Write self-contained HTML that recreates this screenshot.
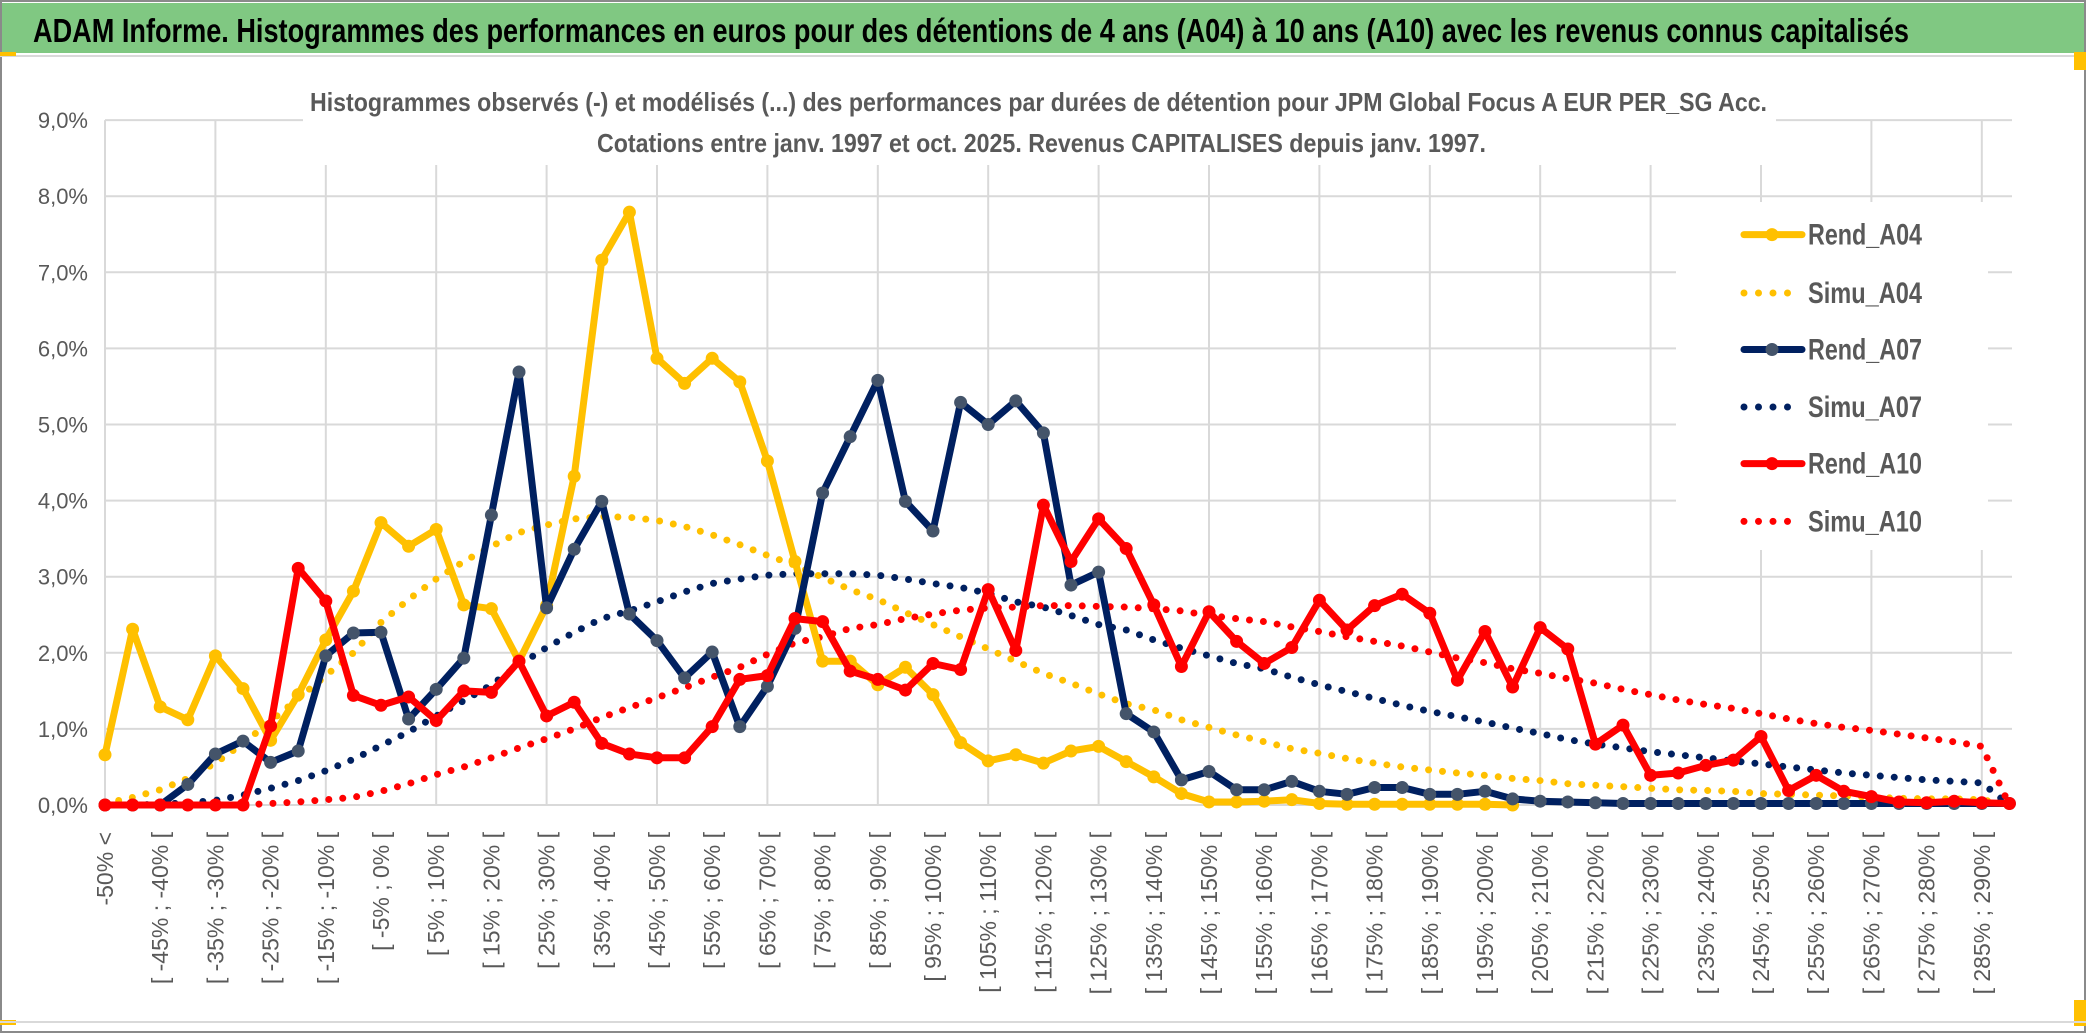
<!DOCTYPE html>
<html><head><meta charset="utf-8"><style>
body{margin:0;background:#fff}
svg{display:block}
text{font-family:"Liberation Sans Narrow","Liberation Sans",sans-serif}
</style></head><body>
<svg id="chart" width="2086" height="1033" viewBox="0 0 2086 1033" xmlns="http://www.w3.org/2000/svg">
<rect x="0" y="0" width="2086" height="1033" fill="#fff"/>
<rect x="1" y="1" width="2084" height="1031" fill="none" stroke="#8a8a8a" stroke-width="2"/>
<rect x="2" y="3" width="2082" height="50" fill="#80c882"/>
<line x1="0" y1="56" x2="2086" y2="56" stroke="#d9d9d9" stroke-width="2"/>
<rect x="0" y="52" width="16" height="4" fill="#ffc000"/>
<rect x="2074" y="52" width="12" height="18" fill="#ffc000"/>
<rect x="0" y="1020" width="16" height="5" fill="#ffc000"/>
<rect x="2074" y="1000" width="12" height="26" fill="#ffc000"/>
<line x1="0" y1="1022" x2="2086" y2="1022" stroke="#d9d9d9" stroke-width="2"/>
<text x="33" y="42" font-size="33" font-weight="bold" fill="#000" textLength="1876" lengthAdjust="spacingAndGlyphs">ADAM Informe. Histogrammes des performances en euros pour des détentions de 4 ans (A04) à 10 ans (A10) avec les revenus connus capitalisés</text>
<g id="grid"></g>
<rect x="303" y="70" width="1473" height="95" fill="#fff"/>
<text x="310" y="111" font-size="26" font-weight="bold" fill="#595959" textLength="1457" lengthAdjust="spacingAndGlyphs">Histogrammes observés (-) et modélisés (...) des performances par durées de détention pour JPM Global Focus A EUR PER_SG Acc.</text>
<text x="597" y="152" font-size="26" font-weight="bold" fill="#595959" textLength="889" lengthAdjust="spacingAndGlyphs">Cotations entre janv. 1997 et oct. 2025. Revenus CAPITALISES depuis janv. 1997.</text>
<g id="yaxis"></g>
<g id="xaxis"></g>
<g id="series"></g>
<g id="legend"></g>
</svg>
<script>
const categories = ["-50% <"];
for (let k = 1; k < 70; k++) { categories.push("[ " + (-55 + 5 * k) + "% ; " + (-50 + 5 * k) + "% ["); }
const yTicks = [0,1,2,3,4,5,6,7,8,9];
const yTickLabels = ["0,0%","1,0%","2,0%","3,0%","4,0%","5,0%","6,0%","7,0%","8,0%","9,0%"];
const rendA04 = [0.66,2.31,1.29,1.12,1.96,1.53,0.85,1.45,2.17,2.81, 3.71,3.40,3.62,2.63,2.58,1.89,2.62,4.32,7.16,7.79, 5.87,5.54,5.87,5.56,4.52,3.2,1.89,1.89,1.58,1.81, 1.45,0.82,0.58,0.66,0.55,0.71,0.77,0.57,0.37,0.15, 0.04,0.04,0.05,0.07,0.02,0.01,0.01,0.01,0.01,0.01, 0.01,0.0,null,null,null,null,null,null,null,null, null,null,null,null,null,null,null,null,null,null];
const simuA04 = [0.02,0.1,0.2,0.35,0.55,0.81,1.1,1.4,1.7,2.0, 2.4,2.7,2.97,3.2,3.4,3.58,3.68,3.76,3.79,3.78, 3.74,3.66,3.55,3.42,3.28,3.15,2.99,2.83,2.70,2.53, 2.37,2.21,2.05,1.89,1.73,1.60,1.46,1.33,1.25,1.12, 1.02,0.92,0.83,0.74,0.68,0.61,0.55,0.50,0.46,0.42, 0.39,0.35,0.32,0.28,0.26,0.24,0.22,0.20,0.19,0.18, 0.15,0.14,0.13,0.12,0.10,0.09,0.08,0.08,0.07,0.0];
const rendA07 = [0,0,0,0.27,0.67,0.84,0.56,0.71,1.96,2.26, 2.27,1.13,1.52,1.93,3.81,5.69,2.59,3.36,3.99,2.51, 2.16,1.67,2.01,1.03,1.56,2.32,4.10,4.84,5.58,3.99, 3.60,5.29,5.00,5.31,4.89,2.89,3.06,1.20,0.96,0.33, 0.44,0.20,0.20,0.31,0.18,0.14,0.23,0.23,0.14,0.14, 0.18,0.08,0.05,0.04,0.03,0.02,0.02,0.02,0.02,0.02, 0.02,0.02,0.02,0.02,0.02,0.02,0.02,0.02,0.02,0.02];
const simuA07 = [0,0,0.01,0.03,0.06,0.13,0.22,0.32,0.45,0.6, 0.78,0.96,1.17,1.37,1.58,1.84,2.07,2.27,2.45,2.55, 2.67,2.80,2.91,2.97,3.02,3.04,3.04,3.04,3.02,2.97, 2.91,2.86,2.78,2.67,2.60,2.49,2.37,2.30,2.17,2.06, 1.96,1.86,1.79,1.68,1.58,1.49,1.40,1.31,1.23,1.16, 1.09,1.01,0.94,0.86,0.80,0.75,0.70,0.66,0.62,0.58, 0.54,0.50,0.46,0.42,0.39,0.36,0.33,0.31,0.29,0.0];
const rendA10 = [0,0,0,0,0,0,1.04,3.11,2.68,1.44, 1.31,1.42,1.11,1.50,1.48,1.89,1.17,1.35,0.81,0.67, 0.62,0.62,1.03,1.65,1.70,2.45,2.41,1.76,1.65,1.51, 1.86,1.78,2.83,2.03,3.94,3.20,3.76,3.37,2.63,1.82, 2.54,2.15,1.86,2.07,2.69,2.30,2.62,2.77,2.52,1.64, 2.28,1.55,2.33,2.05,0.80,1.05,0.39,0.42,0.52,0.59, 0.90,0.19,0.39,0.18,0.11,0.04,0.03,0.05,0.03,0.02];
const simuA10 = [0,0,0,0,0,0,0.02,0.04,0.07,0.1, 0.18,0.28,0.4,0.5,0.62,0.75,0.87,1.0,1.15,1.28, 1.41,1.54,1.68,1.81,1.98,2.13,2.21,2.32,2.37,2.45, 2.51,2.56,2.59,2.60,2.62,2.62,2.61,2.60,2.58,2.55, 2.49,2.45,2.41,2.34,2.28,2.21,2.15,2.09,2.01,1.93, 1.87,1.79,1.73,1.66,1.60,1.52,1.45,1.38,1.32,1.27, 1.20,1.13,1.07,1.02,0.98,0.93,0.88,0.83,0.77,0.0];
const seriesNames = ["Rend_A04","Simu_A04","Rend_A07","Simu_A07","Rend_A10","Simu_A10"];

const NS = "http://www.w3.org/2000/svg";
const X0 = 105, DX = 27.6, Y0 = 805, DY = 76.1;
function xs(i) { return X0 + i * DX; }
function ys(v) { return Y0 - v * DY; }
function mk(tag, attrs, parent) {
  const e = document.createElementNS(NS, tag);
  for (const k in attrs) e.setAttribute(k, attrs[k]);
  parent.appendChild(e);
  return e;
}
const grid = document.getElementById("grid");
yTicks.forEach(function (t) {
  const l = mk("line", {x1: X0, x2: 2012, y1: ys(t), y2: ys(t), stroke: "#d9d9d9", "stroke-width": 2}, grid);
  
  
});
for (let i = 0; i < categories.length; i += 4) {
  const l = mk("line", {x1: xs(i), x2: xs(i), y1: ys(9), y2: Y0, stroke: "#d9d9d9", "stroke-width": 2}, grid);
  
  
}
const ya = document.getElementById("yaxis");
yTicks.forEach(function (t, k) {
  const tx = mk("text", {x: 88, y: ys(t) + 8, "text-anchor": "end", "font-size": 22, fill: "#595959"}, ya);
  tx.textContent = yTickLabels[k];
  
  
});
const xa = document.getElementById("xaxis");
for (let i = 0; i < categories.length; i += 2) {
  const cx = xs(i) + 8, cy = 832;
  const tx = mk("text", {x: cx, y: cy, "text-anchor": "end", "font-size": 23, fill: "#595959", "font-family": "Liberation Sans, sans-serif", transform: "rotate(-90 " + cx + " " + cy + ")"}, xa);
  tx.textContent = categories[i];
  
  
}
const sg = document.getElementById("series");
function pathOf(vals) {
  let d = "", started = false;
  vals.forEach(function (v, i) {
    if (v === null) return;
    d += (started ? "L" : "M") + xs(i).toFixed(1) + " " + ys(v).toFixed(1) + " ";
    started = true;
  });
  return d;
}
function dotted(vals, color, name) {
  const p = mk("path", {d: pathOf(vals), fill: "none", stroke: color, "stroke-width": 7, "stroke-dasharray": "0 14", "stroke-linecap": "round", "stroke-linejoin": "round"}, sg);
  
  
}
function solid(vals, color, mcolor, name) {
  const p = mk("path", {d: pathOf(vals), fill: "none", stroke: color, "stroke-width": 7, "stroke-linejoin": "round"}, sg);
  
  
  vals.forEach(function (v, i) {
    if (v === null) return;
    const c = mk("circle", {cx: xs(i), cy: ys(v), r: 6.5, fill: mcolor}, sg);
    
    
  });
}
dotted(simuA04, "#ffc000", "simu-a04-line");
dotted(simuA07, "#002060", "simu-a07-line");
dotted(simuA10, "#ff0000", "simu-a10-line");
solid(rendA04, "#ffc000", "#ffc000", "rend-a04-line");
solid(rendA07, "#002060", "#44546a", "rend-a07-line");
solid(rendA10, "#ff0000", "#ff0000", "rend-a10-line");

const lg = document.getElementById("legend");
const lbg = mk("rect", {x: 1676, y: 202, width: 312, height: 348, fill: "#fff"}, lg);


const legColors = ["#ffc000","#ffc000","#002060","#002060","#ff0000","#ff0000"];
const legMarker = ["#ffc000",null,"#44546a",null,"#ff0000",null];
const legY = [234.6,293,349.5,407,463.6,521.4];
seriesNames.forEach(function (n, k) {
  const y = legY[k];
  if (legMarker[k]) {
    const l = mk("line", {x1: 1744, x2: 1802, y1: y, y2: y, stroke: legColors[k], "stroke-width": 7, "stroke-linecap": "round"}, lg);
    
    
    const c = mk("circle", {cx: 1772, cy: y, r: 6.5, fill: legMarker[k]}, lg);
    
    
  } else {
    const l = mk("line", {x1: 1744, x2: (k === 5 ? 1802 : 1790), y1: y, y2: y, stroke: legColors[k], "stroke-width": 7, "stroke-dasharray": "0 14.5", "stroke-linecap": "round"}, lg);
    
    
  }
  const t = mk("text", {x: 1808, y: y + 10, "font-size": 30, "font-weight": "bold", fill: "#595959", textLength: 114, lengthAdjust: "spacingAndGlyphs"}, lg);
  t.textContent = n;
  
  
});
</script>
</body></html>
